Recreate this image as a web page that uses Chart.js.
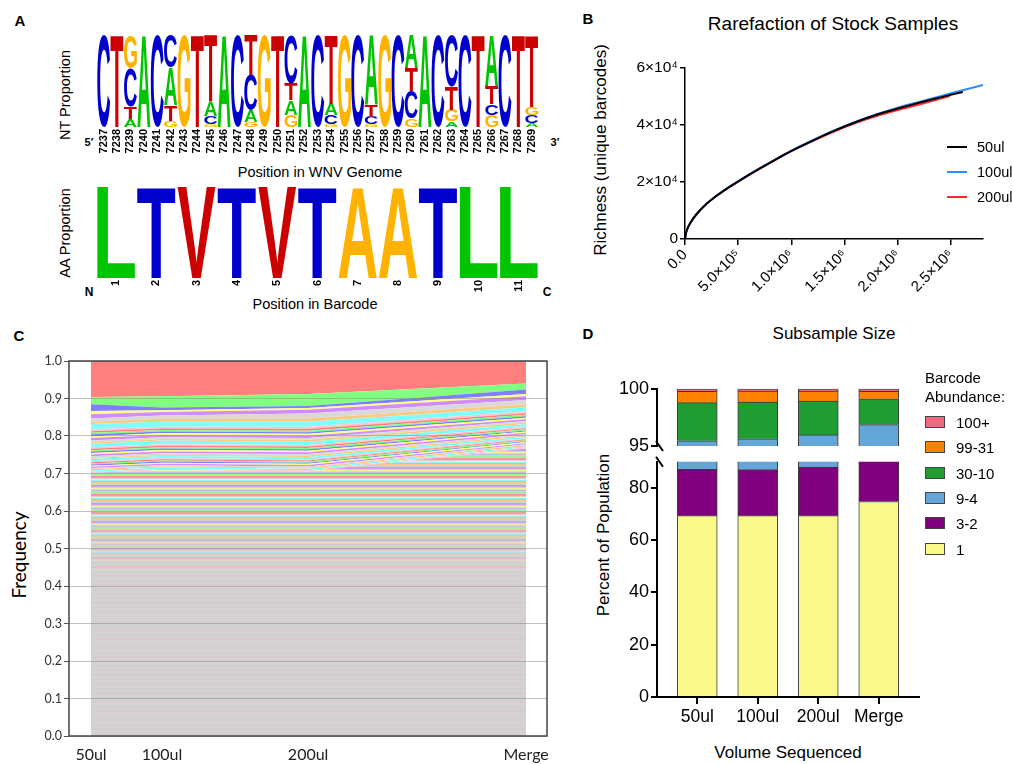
<!DOCTYPE html>
<html>
<head>
<meta charset="utf-8">
<title>Barcode library figure</title>
<script src="https://cdn.jsdelivr.net/npm/chart.js@4.4.1/dist/chart.umd.min.js"></script>
<style>
  html, body { margin: 0; padding: 0; background: #fff; }
  #page { position: relative; width: 1013px; height: 764px; overflow: hidden;
          font-family: "Liberation Sans", Arial, sans-serif; color: #000; }
  canvas { position: absolute; }
  .t { position: absolute; white-space: nowrap; line-height: 1; transform: translate(-50%, -50%); }
  .v { transform: translate(-50%, -50%) rotate(-90deg); }
  .tag { font-weight: bold; font-size: 15px; }
  .l { position: absolute; white-space: nowrap; line-height: 1; transform: translateY(-50%); }
  .swatch { position: absolute; width: 20px; height: 2px; }
  .box { position: absolute; width: 18px; height: 10px; border: 1px solid #444; }
</style>
</head>
<body>
<div id="page">
  <!-- panel A -->
  <div class="t tag" style="left:20px;top:20px">A</div>
  <div class="t v" style="left:65px;top:95px;font-size:14.5px">NT Proportion</div>
  <div class="t" style="left:89px;top:142px;font-size:11px;font-weight:bold">5′</div>
  <div class="t" style="left:555px;top:142px;font-size:11px;font-weight:bold">3′</div>
  <div class="t" style="left:320px;top:172px;font-size:14.5px">Position in WNV Genome</div>
  <div class="t v" style="left:65px;top:233px;font-size:14.5px">AA Proportion</div>
  <div class="t" style="left:89px;top:292px;font-size:12px;font-weight:bold">N</div>
  <div class="t" style="left:547px;top:292px;font-size:12px;font-weight:bold">C</div>
  <div class="t" style="left:315px;top:304px;font-size:14.5px">Position in Barcode</div>
  <canvas id="logo-nt" width="450" height="120" style="left:97px;top:35px"></canvas>
  <canvas id="logo-aa" width="443" height="115" style="left:96px;top:187px"></canvas>

  <!-- panel B -->
  <div class="t tag" style="left:588px;top:18px">B</div>
  <div class="t" style="left:833px;top:23px;font-size:19px">Rarefaction of Stock Samples</div>
  <div class="t v" style="left:600px;top:150px;font-size:17px">Richness (unique barcodes)</div>
  <div class="t" style="left:834px;top:333px;font-size:17px">Subsample Size</div>
  <canvas id="rarefaction-chart" width="413" height="253" style="left:600px;top:56px"></canvas>
  <div id="legend-b"></div>

  <!-- panel C -->
  <div class="t tag" style="left:19px;top:335px">C</div>
  <div class="t v" style="left:18px;top:555px;font-size:19px;font-family:Lato, sans-serif">Frequency</div>
  <canvas id="frequency-chart" width="540" height="414" style="left:20px;top:350px"></canvas>

  <!-- panel D -->
  <div class="t tag" style="left:588px;top:333px">D</div>
  <div class="t v" style="left:603px;top:535px;font-size:17px">Percent of Population</div>
  <div class="t" style="left:788px;top:752px;font-size:17px">Volume Sequenced</div>
  <canvas id="abundance-top" width="330" height="84" style="left:600px;top:376px"></canvas>
  <canvas id="abundance-bottom" width="330" height="283" style="left:600px;top:449px"></canvas>
  <div class="l" style="left:925px;top:377px;font-size:15px">Barcode</div>
  <div class="l" style="left:925px;top:396px;font-size:15px">Abundance:</div>
  <div id="legend-d"></div>
</div>

<script>
  // ---------- Panel A: sequence logos ----------
  const ntPositions = ['7237', '7238', '7239', '7240', '7241', '7242', '7243', '7244', '7245', '7246', '7247',
    '7248', '7249', '7250', '7251', '7252', '7253', '7254', '7255', '7256', '7257', '7258', '7259', '7260',
    '7261', '7262', '7263', '7264', '7265', '7266', '7267', '7268', '7269'];
  // letters per position, top of the stack first
  const ntLetters = ['C', 'T', 'GCTA', 'A', 'C', 'CATG', 'G', 'T', 'TACG', 'A', 'C', 'TCAG', 'G', 'T', 'CTAG',
    'A', 'C', 'TACG', 'G', 'C', 'ATCG', 'G', 'C', 'ATCG', 'A', 'C', 'CTGA', 'C', 'T', 'ATCG', 'C', 'T', 'TGCA'];
  const ntShares = [[1], [1], [0.36, 0.42, 0.13, 0.09], [1], [1], [0.35, 0.41, 0.17, 0.07], [1], [1],
    [0.73, 0.15, 0.09, 0.03], [1], [1], [0.44, 0.38, 0.13, 0.05], [1], [1], [0.53, 0.18, 0.16, 0.13], [1], [1],
    [0.75, 0.12, 0.10, 0.03], [1], [1], [0.76, 0.13, 0.08, 0.03], [1], [1], [0.36, 0.25, 0.30, 0.09], [1], [1],
    [0.56, 0.25, 0.13, 0.06], [1], [1], [0.55, 0.20, 0.12, 0.13], [1], [1], [0.78, 0.09, 0.09, 0.04]];

  const aaPositions = ['1', '2', '3', '4', '5', '6', '7', '8', '9', '10', '11'];
  const aaLetters = ['L', 'T', 'V', 'T', 'V', 'T', 'A', 'A', 'T', 'L', 'L'];
  const aaShares = [1, 1, 1, 1, 1, 1, 1, 1, 1, 1, 1];

  // ---------- Panel B: rarefaction curves ----------
  const bX50 = [0, 1e4, 2.5e4, 5e4, 1e5, 2e5, 3e5, 4e5, 5e5, 6e5, 7e5, 8e5, 9e5, 1e6, 1.2e6, 1.4e6, 1.6e6,
    1.8e6, 2e6, 2.2e6, 2.4e6, 2.61e6];
  const bY50 = [0, 2200, 3800, 5600, 8300, 12200, 15200, 17800, 20100, 22400, 24600, 26700, 28800, 30800,
    34400, 37800, 40800, 43400, 45600, 47600, 49500, 51400];
  const bX100 = [0, 1e4, 2.5e4, 5e4, 1e5, 2e5, 3e5, 4e5, 5e5, 6e5, 7e5, 8e5, 9e5, 1e6, 1.2e6, 1.4e6, 1.6e6,
    1.8e6, 2e6, 2.2e6, 2.4e6, 2.6e6, 2.8e6];
  const bY100 = [0, 2200, 3800, 5600, 8300, 12200, 15200, 17800, 20200, 22500, 24700, 26800, 28900, 30900,
    34500, 37900, 40900, 43600, 45900, 47900, 49900, 51900, 53800];
  const bX200 = [0, 1e4, 2.5e4, 5e4, 1e5, 2e5, 3e5, 4e5, 5e5, 6e5, 7e5, 8e5, 9e5, 1e6, 1.2e6, 1.4e6, 1.6e6,
    1.8e6, 2e6, 2.2e6, 2.49e6];
  const bY200 = [0, 2200, 3800, 5600, 8300, 12200, 15200, 17700, 20000, 22300, 24500, 26600, 28700, 30700,
    34200, 37500, 40500, 43000, 45100, 47000, 50000];
  const bSeriesNames = ['50ul', '100ul', '200ul'];
  const bXTicks = [0, 5e5, 1e6, 1.5e6, 2e6, 2.5e6];
  const bXTickLabels = ['0.0', '5.0×10⁵', '1.0×10⁶', '1.5×10⁶', '2.0×10⁶', '2.5×10⁶'];
  const bYTicks = [0, 20000, 40000, 60000];
  const bYTickLabels = ['0', '2×10⁴', '4×10⁴', '6×10⁴'];

  // ---------- Panel C: barcode frequencies (band edges, top band first) ----------
  const cLabels = ['50ul', '100ul', '200ul', 'Merge'];
  const cX = [0, 0.163, 0.499, 1];
  const cEdges = [
    [1.000, 1.000, 1.000, 1.000],
    [0.904, 0.906, 0.912, 0.940],
    [0.885, 0.876, 0.880, 0.924],
    [0.867, 0.869, 0.875, 0.912],
    [0.858, 0.864, 0.870, 0.906],
    [0.847, 0.855, 0.860, 0.896],
    [0.838, 0.846, 0.847, 0.885],
    [0.832, 0.838, 0.838, 0.877],
    [0.818, 0.825, 0.825, 0.866],
    [0.813, 0.820, 0.819, 0.861],
    [0.809, 0.816, 0.814, 0.857],
    [0.805, 0.812, 0.810, 0.853],
    [0.799, 0.808, 0.806, 0.849],
    [0.795, 0.803, 0.801, 0.845],
    [0.788, 0.797, 0.795, 0.840],
    [0.783, 0.792, 0.790, 0.836],
    [0.779, 0.788, 0.785, 0.832],
    [0.770, 0.778, 0.776, 0.825],
    [0.766, 0.774, 0.772, 0.821],
    [0.762, 0.770, 0.768, 0.818],
    [0.759, 0.767, 0.765, 0.815],
    [0.755, 0.763, 0.761, 0.812],
    [0.751, 0.759, 0.757, 0.809],
    [0.746, 0.754, 0.752, 0.805],
    [0.742, 0.750, 0.748, 0.802],
    [0.739, 0.747, 0.744, 0.799],
    [0.733, 0.741, 0.738, 0.794],
    [0.730, 0.738, 0.735, 0.791],
    [0.727, 0.735, 0.732, 0.789],
    [0.724, 0.732, 0.729, 0.786],
    [0.721, 0.729, 0.726, 0.784],
    [0.718, 0.726, 0.723, 0.781],
    [0.715, 0.722, 0.719, 0.778],
    [0.712, 0.719, 0.716, 0.776],
    [0.709, 0.716, 0.713, 0.773],
    [0.705, 0.712, 0.709, 0.770],
    [0.702, 0.709, 0.706, 0.767]
  ];
  const cYTicks = [0, 0.1, 0.2, 0.3, 0.4, 0.5, 0.6, 0.7, 0.8, 0.9, 1.0];

  // ---------- Panel D: abundance classes (bottom of stack first) ----------
  const dCategories = ['50ul', '100ul', '200ul', 'Merge'];
  const dClassNames = ['1', '3-2', '9-4', '30-10', '99-31', '100+'];
  const dOnce = [69.4, 69.4, 69.4, 74.8];
  const dTwoThree = [17.7, 17.6, 18.6, 16.2];
  const dFourNine = [8.36, 8.63, 7.97, 5.87];
  const dTenThirty = [3.33, 3.22, 2.96, 2.26];
  const dThirtyOne = [0.99, 0.95, 0.87, 0.65];
  const dHundred = [0.22, 0.20, 0.20, 0.22];
  const dLowTicks = [0, 20, 40, 60, 80];
  const dHighTicks = [95, 100];
  const dTickPos = [0, 1, 2, 3];

  (function() {
    'use strict';

    const FONT = '"Liberation Sans", Arial, sans-serif';
    Chart.defaults.font.family = FONT;
    Chart.defaults.color = '#000';
    Chart.defaults.animation = false;
    Chart.defaults.plugins.legend.display = false;
    Chart.defaults.plugins.tooltip.enabled = false;

    const ntColors = { A: '#00c400', C: '#0000cc', G: '#ffb300', T: '#cc0000' };
    const aaColors = { L: '#00c400', T: '#0000cc', V: '#cc0000', A: '#ffb300' };
    const bColors = ['#000000', '#2e8bff', '#ff2b2b'];
    const cPalette = ['#ff7f7f', '#80ff80', '#7f7fff', '#ffff80', '#d38cff', '#d9d9d9', '#ffc97f', '#80ffff', '#ffc6d0'];
    const dColors = ['#fafa8c', '#800080', '#65a6d8', '#1f9d33', '#ff8200', '#f0677f'];

    const fixWidth = w => function(scale) { scale.width = w; };
    const fixHeight = h => function(scale) { scale.height = h; };
    const setTicks = values => function(scale) { scale.ticks = values.map(v => ({ value: v })); };

    /**
     * Draw one glyph stretched to fill a rectangle
     */
    function drawGlyph(ctx, ch, left, top, w, h, color) {
      ctx.save();
      ctx.font = 'bold 100px ' + FONT;
      const m = ctx.measureText(ch);
      const gw = m.actualBoundingBoxLeft + m.actualBoundingBoxRight;
      const gh = m.actualBoundingBoxAscent + m.actualBoundingBoxDescent;
      ctx.translate(left, top);
      ctx.scale(w / gw, h / gh);
      ctx.fillStyle = color;
      ctx.textAlign = 'left';
      ctx.textBaseline = 'alphabetic';
      ctx.fillText(ch, m.actualBoundingBoxLeft, m.actualBoundingBoxAscent);
      ctx.restore();
    }

    // letters are drawn into the rectangles of invisible stacked bars
    const logoLetters = {
      id: 'logoLetters',
      afterDatasetsDraw(chart, args, opts) {
        const ctx = chart.ctx;
        chart.data.datasets.forEach((ds, di) => {
          chart.getDatasetMeta(di).data.forEach((bar, i) => {
            const ch = ds.letters[i];
            if (!ch || !ds.data[i]) return;
            const p = bar.getProps(['x', 'y', 'base', 'width'], true);
            const top = Math.min(p.y, p.base);
            const h = Math.abs(p.base - p.y);
            if (h < 0.4) return;
            drawGlyph(ctx, ch, p.x - p.width / 2 + opts.inset, top, p.width - 2 * opts.inset, h, opts.colors[ch]);
          });
        });
      }
    };

    function logoDatasets(letters, shares) {
      const depth = Math.max(...letters.map(s => s.length));
      const sets = [];
      for (let r = depth - 1; r >= 0; r--) {
        sets.push({
          data: shares.map(s => s[r] || 0),
          letters: letters.map(s => s[r] || ''),
          backgroundColor: 'rgba(0,0,0,0)',
          borderWidth: 0,
          barPercentage: 1,
          categoryPercentage: 1
        });
      }
      return sets;
    }

    function logoChart(id, labels, letters, shares, colors, axisHeight, tickFont, inset) {
      return new Chart(document.getElementById(id), {
        type: 'bar',
        data: { labels: labels, datasets: logoDatasets(letters, shares) },
        plugins: [logoLetters],
        options: {
          responsive: false,
          layout: { padding: 0 },
          plugins: { logoLetters: { inset: inset, colors: colors } },
          scales: {
            x: {
              stacked: true,
              afterFit: fixHeight(axisHeight),
              grid: { display: false, drawTicks: false },
              border: { display: false },
              ticks: { autoSkip: false, minRotation: 90, maxRotation: 90, padding: 2,
                       font: { size: tickFont, weight: 'bold' }, color: '#000' }
            },
            y: { stacked: true, display: false, min: 0, max: 1 }
          }
        }
      });
    }

    /**
     * Panel B: rarefaction line chart
     */
    function initRarefactionChart() {
      const xs = [bX50, bX100, bX200];
      const ys = [bY50, bY100, bY200];
      new Chart(document.getElementById('rarefaction-chart'), {
        type: 'line',
        data: {
          datasets: bSeriesNames.map((name, i) => ({
            label: name,
            data: xs[i].map((x, k) => ({ x: x, y: ys[i][k] })),
            borderColor: bColors[i],
            borderWidth: 2,
            pointRadius: 0,
            tension: 0.2,
            fill: false
          }))
        },
        options: {
          responsive: false,
          layout: { padding: { top: 11, right: 30, left: 0, bottom: 0 } },
          scales: {
            x: {
              type: 'linear', min: 0, max: 2.8e6,
              afterFit: fixHeight(70),
              afterBuildTicks: setTicks(bXTicks),
              border: { color: '#000', width: 1.5 },
              grid: { drawOnChartArea: false, color: '#000', lineWidth: 1.5, tickLength: 6 },
              ticks: { autoSkip: false, minRotation: 45, maxRotation: 45, padding: 1,
                       font: { size: 15 }, callback: (v, i) => bXTickLabels[i] }
            },
            y: {
              min: 0, max: 60000,
              afterFit: fixWidth(85),
              afterBuildTicks: setTicks(bYTicks),
              border: { color: '#000', width: 1.5 },
              grid: { drawOnChartArea: false, color: '#000', lineWidth: 1.5, tickLength: 5 },
              ticks: { padding: 2, font: { size: 15.5 }, callback: (v, i) => bYTickLabels[i] }
            }
          }
        }
      });

      const legend = document.getElementById('legend-b');
      const rows = [147, 172, 197];
      bSeriesNames.forEach((name, i) => {
        legend.insertAdjacentHTML('beforeend',
          `<div class="swatch" style="left:947px;top:${rows[i] - 1}px;background:${bColors[i]}"></div>` +
          `<div class="l" style="left:977px;top:${rows[i]}px;font-size:14.5px">${name}</div>`);
      });
    }

    /**
     * Panel C: stacked barcode frequency bands
     */
    let stripeCache = null;
    function remainderFill(chart) {
      if (!chart.chartArea) return '#d5d0d3';
      if (stripeCache) return stripeCache;
      const y = chart.scales.y;
      const c = document.createElement('canvas');
      c.width = 8;
      c.height = chart.height;
      const p = c.getContext('2d');
      p.fillStyle = '#d5d1d4';
      p.fillRect(0, 0, 8, c.height);
      for (let row = 0; row < c.height; row++) {
        const v = y.getValueForPixel(row + 0.5);
        let a = 0.06;
        if (v > 0.62) a = 0.75;
        else if (v > 0.42) a = 0.06 + (v - 0.42) * 3.4;
        if (row % 3 === 2) a *= 0.3;
        p.globalAlpha = a;
        p.fillStyle = cPalette[(row * 4) % cPalette.length];
        p.fillRect(0, row, 8, 1);
      }
      stripeCache = chart.ctx.createPattern(c, 'repeat');
      return stripeCache;
    }

    const plotFrame = {
      id: 'plotFrame',
      afterDraw(chart) {
        const a = chart.chartArea;
        const ctx = chart.ctx;
        ctx.save();
        ctx.strokeStyle = '#444';
        ctx.lineWidth = 1.5;
        ctx.strokeRect(a.left, a.top, a.right - a.left, a.bottom - a.top);
        ctx.restore();
      }
    };

    function initFrequencyChart() {
      const n = cEdges.length - 1;
      const bottomUp = cEdges.slice().reverse();
      const datasets = bottomUp.map((edge, j) => ({
        data: cX.map((x, k) => ({ x: x, y: edge[k] })),
        borderWidth: 0,
        pointRadius: 0,
        tension: 0,
        fill: j === 0 ? 'origin' : '-1',
        backgroundColor: j === 0 ? (ctx => remainderFill(ctx.chart)) : cPalette[(n - j) % cPalette.length]
      }));

      new Chart(document.getElementById('frequency-chart'), {
        type: 'line',
        data: { datasets: datasets },
        plugins: [plotFrame],
        options: {
          responsive: false,
          layout: { padding: { top: 11, right: 13, left: 0, bottom: 0 } },
          scales: {
            x: {
              type: 'linear', min: -0.0506, max: 1.048,
              afterFit: fixHeight(28),
              afterBuildTicks: setTicks(cX),
              grid: { display: false, drawTicks: false },
              border: { display: false },
              ticks: { padding: 9, color: '#222', font: { family: 'Lato, sans-serif', size: 16 },
                       callback: (v, i) => cLabels[i] }
            },
            y: {
              min: 0, max: 1,
              afterFit: fixWidth(49),
              afterBuildTicks: setTicks(cYTicks),
              border: { display: false },
              grid: { color: 'rgba(140,140,140,0.55)', lineWidth: 1, z: 1, tickLength: 5, tickColor: '#555' },
              ticks: { padding: 2, color: '#333', font: { family: 'Lato, sans-serif', size: 12.5 },
                       callback: v => v.toFixed(1) }
            }
          }
        }
      });
    }

    /**
     * Panel D: broken-axis stacked bars (two charts sharing one x range)
     */
    function abundanceDatasets() {
      const series = [dOnce, dTwoThree, dFourNine, dTenThirty, dThirtyOne, dHundred];
      return series.map((vals, i) => ({
        label: dClassNames[i],
        data: vals.map((v, k) => ({ x: k, y: v })),
        backgroundColor: dColors[i],
        borderColor: '#3a3a3a',
        borderWidth: { top: 1, left: 1, right: 1, bottom: 0 },
        borderSkipped: false,
        barThickness: 40
      }));
    }

    const breakMark = {
      id: 'breakMark',
      afterDraw(chart, args, opts) {
        const a = chart.chartArea;
        const y = opts.edge === 'bottom' ? a.bottom : a.top;
        const ctx = chart.ctx;
        ctx.save();
        ctx.strokeStyle = '#000';
        ctx.lineWidth = 2;
        ctx.beginPath();
        ctx.moveTo(a.left - 1, y - 5);
        ctx.lineTo(a.left + 6, y + 5);
        ctx.stroke();
        ctx.restore();
      }
    };

    // chart area top is set by half the height of the top tick label (18px * 1.2 / 2)
    function abundanceChart(id, yMin, yMax, ticks, showX, padding, edge) {
      return new Chart(document.getElementById(id), {
        type: 'bar',
        data: { datasets: abundanceDatasets() },
        plugins: [breakMark],
        options: {
          responsive: false,
          layout: { padding: padding },
          plugins: { breakMark: { edge: edge } },
          scales: {
            x: {
              type: 'linear', min: -0.665, max: 3.665, offset: false, stacked: true,
              display: showX,
              afterFit: fixHeight(showX ? 35 : 0),
              afterBuildTicks: setTicks(dTickPos),
              border: { color: '#000', width: 2 },
              grid: { offset: false, drawOnChartArea: false, color: '#000', lineWidth: 2, tickLength: 7 },
              ticks: { padding: 3, font: { size: 17.5 }, callback: (v, i) => dCategories[i] }
            },
            y: {
              min: yMin, max: yMax, stacked: true,
              afterFit: fixWidth(57),
              afterBuildTicks: setTicks(ticks),
              border: { color: '#000', width: 2 },
              grid: { drawOnChartArea: false, color: '#000', lineWidth: 2, tickLength: 6 },
              ticks: { padding: 2, font: { size: 18 } }
            }
          }
        }
      });
    }

    function initAbundanceCharts() {
      abundanceChart('abundance-top', 95, 100, dHighTicks, false,
                     { top: 0, right: 11, bottom: 14, left: 0 }, 'bottom');
      abundanceChart('abundance-bottom', 0, 90, dLowTicks, true,
                     { top: 0, right: 11, bottom: 0, left: 0 }, 'top');

      const legend = document.getElementById('legend-d');
      const rows = [421.7, 447.3, 472.7, 498.3, 523.3, 549];
      const order = [5, 4, 3, 2, 1, 0];
      order.forEach((idx, r) => {
        legend.insertAdjacentHTML('beforeend',
          `<div class="box" style="left:925px;top:${rows[r] - 6}px;background:${dColors[idx]}"></div>` +
          `<div class="l" style="left:956px;top:${rows[r]}px;font-size:15px">${dClassNames[idx]}</div>`);
      });
    }

    function initFigure() {
      if (typeof Chart === 'undefined') {
        console.error('[Figure] Chart.js not loaded');
        return;
      }
      logoChart('logo-nt', ntPositions, ntLetters, ntShares, ntColors, 28, 11, 0.2);
      logoChart('logo-aa', aaPositions, aaLetters, aaShares.map(v => [v]), aaColors, 24, 11, 0.8);
      initRarefactionChart();
      initFrequencyChart();
      initAbundanceCharts();
    }

    initFigure();
  })();
</script>
</body>
</html>
